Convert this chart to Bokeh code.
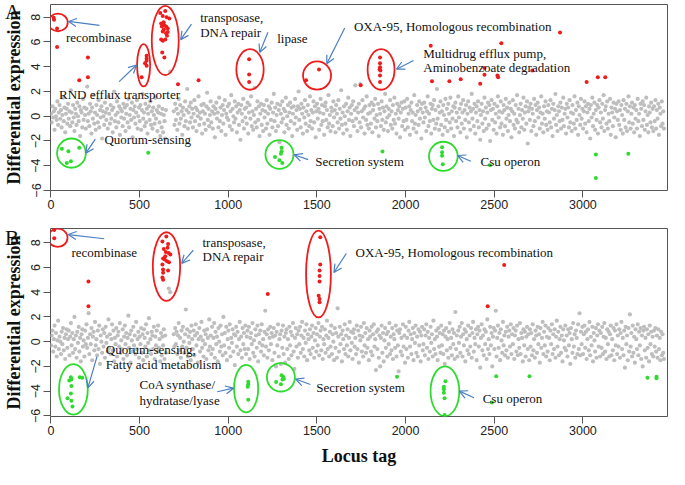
import numpy as np
from bokeh.plotting import figure
from bokeh.layouts import column
from bokeh.models import Arrow, OpenHead, FixedTicker, Range1d, Div
from bokeh.core.properties import value
from bokeh.embed import file_html
from bokeh.resources import INLINE

# ---------------- data ----------------
x_ticks = [0, 500, 1000, 1500, 2000, 2500, 3000]
y_ticks = [-6, -4, -2, 0, 2, 4, 6, 8]
locus_step = 4  # every 4th locus tag is shown in the grey background cloud

gray_a = [
 .2, -.5, .8, -.1, .4, -1.1, .6, .0, -.3, 1.2, -.7, .3, .9, -.2, .5, -.9, .1, 1.5, -.4, .7, -1.3, .2, .6, -.6, 1.0,
 -.2, .4, -.8, 2.1, .3, -.5, .9, -.1, -1.2, .6, .2, -.7, 1.1, .0, -.4, .8, -1.6, .5, .3, -.9, 1.4, -.3, .7, .1, -1.0,
 .6, 2.4, -.4, .2, -.8, 1.0, .4, -1.4, .7, -.2, 1.7, -.6, .3, -1.1, .9, .1, -.5, 1.3, -.9, .5, -.1, .8, -1.8, .4, .0,
 -.7, 1.1, .3, -.3, .6, -1.0, 1.6, .2, -.6, .9, -.2, .5, -1.3, .7, 2.0, -.4, .1, -.9, 1.2, .3, -.5, .8, -1.5, .6, -.1,
 .4, -.8, 1.0, -.2, .7, -1.2, .2, .9, -.5, 1.4, -.9, .1, .6, -.3, 1.1, -1.7, .5, -.1, .8, -.6, .3, 1.3, -1.0, .0, .7,
 -.4, .9, -1.1, .5, 1.8, -.2, .3, -.8, 1.0, -.5, .6, -1.4, .2, .8, -.3, 1.2, -.7, .4, -1.0, .7, .1, -.6, 1.5, -.2, .5,
 -1.2, .3, .8, -.5, -1.6, .2, -.9, .6, -1.3, .1, -.4, -1.8, .5, None, None, None, None, None, 3.6, None, None, None, None, .4, -.7,
 1.0, -.3, .6, -1.1, .2, 1.4, -.6, .9, -.2, .4, -1.5, .7, .1, -.8, 1.2, -.4, .5, 2.2, -1.0, .3, .8, -.5, 1.1, -.1, .6,
 -.9, .2, 1.3, -.4, .7, -1.2, .5, .0, 1.6, -.7, .3, -.2, .9, -1.4, .4, 1.0, -.6, .2, -1.1, .8, 1.9, -.3, .6, -.8, .1,
 1.2, -.5, .4, -1.0, .8, .2, -1.7, .6, 1.1, -.2, .3, -.9, 1.5, -.4, .7, -1.2, .1, .9, -.6, .5, 1.3, -1.5, .2, -.1, .8,
 -.3, 1.0, -.8, .4, 1.7, -1.1, .6, .0, -.5, 1.2, -.2, .8, -1.3, .3, 1.0, -.7, .5, -1.9, .9, .2, -.4, 1.4, -1.0, .6, -.1,
 .7, -.6, 1.1, -1.4, .3, .9, -.2, 1.6, -.8, .4, -1.1, .1, 2.3, -.5, .6, -.9, 1.2, -.3, .8, -1.6, .2, 1.0, -.7, .5, -1.2,
 .9, -.1, .4, -1.0, 1.3, -.6, .2, .8, -1.5, .6, -.3, 1.1, -.9, .3, 1.8, -.4, .7, -1.2, .1, 1.0, -.8, .5, -2.1, .9, .2,
 -.5, 1.2, -.2, .6, -1.3, .4, 1.5, -.7, .0, .9, -1.0, .3, 1.1, -.4, .7, -1.6, .2, .8, -.6, 1.4, -.1, .5, -1.1, .8, 2.0,
 -.3, .6, -.9, 1.0, .2, -1.4, .7, -.1, 1.3, -.6, .4, -1.2, .9, .1, -.8, 1.6, -.4, .5, -1.0, .3, 1.2, -.5, .8, -1.7, .4,
 1.0, -.2, .6, -1.1, .3, 1.4, -.7, .9, -.4, .2, -1.5, .8, 1.1, -.3, .5, -.9, 1.7, -.6, .1, -1.2, .7, .4, -.8, 1.2, -.1,
 .5, -1.3, .9, .2, -.5, 1.3, -1.0, .6, -.2, 2.1, -.7, .3, -1.4, .8, .0, -.6, 1.0, -1.1, .4, 1.5, -.3, .7, -1.6, .2, .9,
 -.4, 1.2, -.8, .5, 2.5, -.2, .7, -1.2, .3, 1.0, -.5, 2.6, -.9, .4, 1.3, -.1, .6, -1.4, .8, -.3, 1.6, -.7, .2, -1.0, .9,
 .3, -.6, 1.1, -1.3, .5, .9, -.2, 1.4, -.9, .1, -.4, 1.0, -1.6, .6, .2, -.8, 1.2, -.3, .7, -1.1, .4, 1.8, -.5, .8, -.1,
 -1.2, .6, .1, 1.3, -.7, .4, -1.0, .9, -.3, 1.5, -.6, .2, -1.4, 1.0, .5, -.2, .8, -1.7, .3, 1.1, -.8, .6, -.4, 1.2, -1.1,
 .7, -.3, 1.4, -.9, .2, .8, -1.5, .5, 1.1, -.4, .3, -1.0, 1.7, -.6, .1, -1.3, .9, .4, -.7, 1.2, -.2, .6, -1.8, 1.0, .3,
 -.5, 1.1, -.1, .7, -1.2, .4, 1.6, -.8, .2, -.4, 1.0, -1.4, .6, .9, -.3, 1.3, -1.0, .5, -.6, 2.2, -.2, .8, -1.1, .3, 1.2,
 -.7, .4, -1.5, .9, .1, -.9, 1.4, -.3, .6, -1.2, 1.0, .2, -.5, 1.5, -1.0, .4, -.2, .8, -1.6, .7, 1.1, -.4, .3, -.9, 1.6,
 -.1, .6, -1.3, 1.0, -.6, .3, 1.3, -1.0, .5, -.3, .9, -1.7, .2, 1.2, -.5, .7, -1.1, .4, 1.8, -.2, .6, -.8, 1.0, -1.4, .3,
 .8, -.4, 1.2, -.9, .5, -1.9, .1, 1.0, -.6, .4, -1.2, 1.5, -.2, .7, -1.0, .3, 1.1, -.7, .9, -2.0, .5, 1.3, -.3, .6, -1.1,
 1.0, -.5, .2, -1.4, .8, 1.6, -.1, .4, -.9, 1.2, -.6, .3, -1.5, .9, .5, -.8, 1.4, -.2, .7, -1.2, .1, 1.1, -.4, .6, -1.7,
 .4, 1.3, -.7, .2, -1.0, .9, -.3, 1.7, -.5, .6, -1.3, .1, 1.0, -.9, .5, -.2, 1.5, -1.1, .3, .8, -.6, 1.2, -2.2, .4, .7,
 -.3, 1.0, -1.2, .6, .2, -.8, 1.4, -.4, .9, -1.5, .5, 1.1, -.1, .7, -1.0, .3, 1.6, -.6, .2, -1.3, .8, -.2, 1.2, -.7, .4,
 -1.1, .9, .3, -.5, 1.3, -.9, .6, -1.6, 1.0, -.2, .5, 1.8, -.7, .1, -1.2, .8, .4, -.4, 1.1, -1.0, .7, -.3, 1.5, -.8, .2,
 .6, -1.4, 1.0, -.1, .7, -.9, 1.3, -.5, .3, -1.2, .9, .2, -.6, 1.6, -1.0, .5, -.3, 1.1, -1.5, .8, .1, -.7, 1.4, -.2, .6,
 -1.0, .4, 1.2, -.6, .8, -1.3, .3, 1.0, -.4, .6, -1.8, .9, -.1, 1.5, -.8, .2, 1.1, -1.1, .5, -.3, .9, -1.4, .7, 1.3, -.5,
 .3, -.9, 1.0, -.2, 1.7, -1.2, .5, .8, -.6, 1.2, -1.0, .2, -.4, 1.4, -1.5, .7, .3, -.8, 1.1, -.1, .6, -1.7, 1.0, .4, -.3,
 1.2, -.7, .5, -1.1, .9, .1, -1.4, 1.3, -.3, .6, -.9, 1.0, -1.2, .4, 1.6, -.5, .8, -1.0, .2, 1.1, -.6, .7, -1.3, .9, -.2,
 .5, -1.0, 1.4, -.4, .2, -1.6, 1.0, .6, -.8, 1.2, -.3, .9, -1.1, .4, 1.5, -.7, .1, -1.3, .8, .3, -.5, 1.1, -.9, .6, -1.2,
 .8, -.4, 1.3, -1.0, .5, -.2, 1.0, -1.5, .7, .2, -.8, 1.2, -.6, .4, -1.0,
]

gray_b = [
 -.3, .5, .9, -.8, .2, 1.3, -.4, .7, -1.2, .1, 1.7, -.6, .4, .0, -1.0, .8, -.2, 1.1, -.7, .3, -1.4, .6, 1.0, -.5, .2,
 .9, -1.1, .4, 1.5, -.3, .7, -.9, .2, 2.0, -.6, .5, -1.3, .8, -.1, 1.2, -.8, .3, -1.6, .6, 1.0, -.4, .1, -1.2, .9, -.2,
 1.4, -.5, .3, 2.3, -1.0, .6, -.2, 1.1, -1.5, .4, .8, -.7, 1.6, -.3, .2, -1.1, .9, -.6, 1.3, -1.8, .5, .0, -.9, 1.0, -.4,
 .7, -1.3, 1.2, -.1, .4, -.8, 1.8, -.5, .6, -1.0, .2, 1.4, -.7, .9, -1.6, .3, -.2, 1.1, -1.2, .5, .8, -.4, 1.5, -.9, .1,
 -.6, 1.0, -1.4, .4, 1.3, -.2, .7, -1.1, .3, 2.1, -.5, .6, -1.7, .9, .1, -.8, 1.2, -.3, .5, -1.0, 1.6, -.6, .2, .8, -1.3,
 .4, -.2, 1.1, -.9, .6, -1.5, 1.0, .3, -.4, 1.4, -1.2, .7, -.1, 1.9, -.7, .2, -1.0, .8, .5, -.6, 1.2, -1.4, .4, -.3, .9,
 -.8, 1.3, -.5, .2, -1.6, .7, -1.1, .4, -.3, 1.0, -1.4, .5, -.9, None, None, None, 4.3, None, 4.0, None, None, None, None, .6, -.4,
 1.1, -.2, .8, -1.0, .5, 1.5, -.7, .3, -1.3, .9, -.4, 1.2, .0, -.9, .6, 2.6, -.5, 1.0, -1.2, .4, -.1, .8, -1.5, 1.3, .2,
 -.6, .9, -1.1, .5, 1.4, -.3, .7, -1.7, .2, 1.1, -.8, .4, 1.6, -.5, .1, -1.2, .9, -.2, .6, -1.4, 1.0, .3, -.7, 1.8, -.4,
 .5, -1.0, 1.2, -.6, .3, 1.5, -1.3, .8, -.2, .4, -1.6, 1.1, .0, -.8, 1.3, -.4, .6, -1.1, 2.0, -.3, .7, -.9, 1.2, -1.5, .2,
 .9, -.5, 1.4, -1.2, .3, -.1, 1.0, -.8, .6, -1.9, .5, 1.2, -.4, .8, -1.0, .2, 1.6, -.7, .4, -1.3, 1.1, -.2, .7, -.6, 1.3,
 -1.0, .4, .9, -.6, 1.2, -1.4, .3, .7, -.2, 1.5, -.9, .1, -1.2, 1.0, .5, -.5, 1.3, -1.6, .6, -.1, .9, -.8, 1.4, -.3, .2,
 -1.1, .8, 2.5, -.4, .6, -1.3, 1.0, -.7, .3, 1.2, -.2, .7, -1.5, .4, 1.1, -.9, .5, -2.0, .8, -.3, 1.4, -1.2, .2, .6, -1.8,
 .9, -.5, 1.3, -1.0, .4, -1.7, .7, 1.0, -.6, .2, -1.4, 1.2, -.3, .8, -1.1, .5, 1.5, -.8, -2.2, .3, 1.1, -.4, .6, -1.3, .9,
 -.2, 1.2, -.9, .5, 1.6, -.6, .3, -1.2, .9, -.1, 1.4, -1.5, .6, .2, -.7, 1.0, -1.0, .4, 1.3, -.5, .7, -1.3, .1, 1.1, -.8,
 .6, -.3, 1.5, -1.1, .4, .9, -.7, 1.2, -1.4, .2, -.2, 1.0, -.9, .5, 1.7, -.6, .3, -1.2, .8, -.4, 1.3, -1.0, .6, .0, -1.5,
 1.1, -.5, .7, -1.3, 2.7, .4, -.8, 1.2, -.2, .6, -1.6, .9, .2, -.6, 1.4, -1.0, .5, -.3, 1.0, -1.2, .3, 1.6, -.7, .8, -.1,
 -1.4, .7, 1.0, -.4, .3, -1.0, 1.3, -.6, .9, -1.7, .5, .1, 1.2, -.8, .4, -1.2, 1.5, -.3, .7, -.9, 1.1, -.5, .2, -1.5, .9,
 .4, -.8, 1.2, -1.1, .6, 1.4, -.4, .2, -2.3, .8, -.6, 1.0, -1.3, .5, -2.0, .3, 1.3, -.9, .7, -1.6, .1, 1.1, -.5, .6, -1.2,
 .8, -.2, 1.5, -1.0, .4, -.7, 1.1, -1.4, .6, .2, -.5, 1.3, -1.2, .9, -.3, -2.4, .7, 1.0, -.8, .3, -1.1, 1.4, -.4, .5, -1.7,
 1.2, -.6, .3, -1.3, .9, 1.6, -.4, .6, -1.0, .2, 1.1, -1.5, .7, -.1, 1.3, -.9, .4, -1.2, 1.0, -.3, .8, -1.6, .5, 1.2, -.7,
 -.2, 1.0, -1.1, .5, 1.4, -.5, .8, -1.4, .3, -.8, 1.2, -.1, .6, -1.2, 1.7, -.6, .2, -1.0, .9, .4, -1.5, 1.1, -.4, .7, -.9,
 1.3, -.3, .6, -1.0, .9, -1.8, .4, 1.1, -.7, .2, -1.3, .8, 1.5, -.5, .3, -1.1, 1.0, -.2, .7, -1.4, 2.4, -.6, .5, -1.2, .9,
 -.1, 1.2, -.9, .4, 1.5, -1.2, .6, -.3, 1.0, -1.6, .8, .2, -.7, 1.3, -1.0, .5, -.4, 1.1, -1.3, .7, 1.6, -.8, .3, -.2, 1.0,
 -1.5, .6, 1.2, -.4, .9, -2.1, .3, 1.4, -.7, .5, -1.1, 1.0, -.2, .8, -1.4, 1.8, -.6, .2, -1.0, 1.2, -.3, .7, -2.0, .4, 1.1,
 -.6, .9, 2.5, -1.2, .3, 1.3, -.5, .7, -1.5, 1.0, .1, -.9, 1.6, -.3, .5, -1.1, .8, -.7, 1.2, -1.3, .4, .9, -.4, 1.4, -1.0,
 .6, -.2, 1.1, -1.4, .5, .9, -.8, 1.3, -1.1, .2, -.5, 1.5, -1.0, .7, .3, -1.6, 1.0, -.3, .8, -1.2, .4, 1.2, -.6, .6, -1.5,
 1.0, -.4, .7, -1.1, 1.4, -.7, .2, -1.3, .9, .5, -.9, 1.2, -.2, .6, -1.7, 1.1, -.5, .3, 1.6, -1.0, .8, -.3, 1.3, -1.2, .4,
 -.8, 1.1, .3, -1.5, .9, -.2, 1.4, -1.0, .6, -.6, 1.0, -1.3, .4, 1.7, -.4, .8, -1.1, .2, 1.2, -.9, .5, -1.6, 1.0, .1, -.5,
 1.3, -.7, .5, -1.2, 1.0, -.3, .7, -1.8, 1.1, .2, -.9, 1.5, -.4, .6, -1.3, .9, .3, -1.0, 1.4, -.6, 2.3, -1.1, .8, -.2, 1.2,
 -1.0, .6, 1.3, -.5, .8, -1.4, .2, 1.0, -.7, 1.6, -1.1, .4, -.3, 1.2, -1.6, .7, .1, -.8, 1.1, -1.3, .5, 1.4, -.4, .9, -1.2,
 .7, -.5, 1.2, -1.0, .4, 1.5, -.8, .3, -1.4, 1.0, -.2, .8, -1.2, .6, 1.3, -1.1, .2, -.7, 1.1, -1.5, .9, -.3, 1.4, -1.0, .5,
 -.4, 1.0, -1.3, .7, 1.6, -.6, .3, -1.1, .9, -2.1, 1.2, -.2, .5, -1.5, 1.1, -.8, 2.2, -.4, .7, -1.2, 1.3, -.9, .4, -1.7, 1.0,
 .2, -.6, 1.4, -1.1, .8, -.3, 1.1, -1.4, .5, -2.0, .9, 1.2, -.7, .3, -1.3, 1.0, -.5, .6, -1.6, 1.3, -.2, .8, -1.0, .4, -1.2,
 .9, -.4, 1.1, -.8, .5, -1.3, 1.0, -.6, .3, -1.5, .8, -1.1, .6, -.9, -1.4,
]

red_a_locus = [16, 18, 35, 35, 160, 209, 209, 512, 540, 540, 540, 531, 540,
               617, 645, 631, 653, 668, 622, 640, 626, 650, 659, 637, 631, 659, 650, 622, 631, 645, 628, 640, 636, 655,
               717, 833, 1118, 1118, 1118, 1512, 1439, 1747, 1856, 1856, 1856, 1854, 1858, 1856, 1856,
               2142, 2149, 2247, 2311, 2421, 2445, 2445, 2518, 2522, 2540, 2715, 2871, 3021, 3084, 3126]
red_a_value = [7.96, 7.8, 7.1, 5.6, 2.9, 4.74, 3.16, 3.16, 4.88, 4.66, 4.48, 4.29, 4.09,
               8.35, 8.5, 8.1, 8.0, 7.9, 7.5, 7.35, 7.25, 7.25, 7.1, 7.0, 6.85, 6.8, 6.7, 6.2, 6.1, 6.2, 5.15, 4.75, 7.6, 6.5,
               2.58, 2.9, 4.61, 3.37, 2.77, 3.77, 2.9, 2.5, 4.74, 4.29, 3.95, 3.77, 3.69, 3.3, 2.77,
               5.7, 2.82, 2.82, 2.98, 2.63, 3.35, 3.9, 3.3, 3.16, 5.9, 3.69, 6.77, 2.77, 3.16, 3.16]
green_a_locus = [62, 99, 160, 90, 113, 549, 1301, 1301, 1297, 1264, 1289, 1305, 1870,
                 2206, 2206, 2206, 2210, 2476, 3073, 3073, 3256]
green_a_value = [-2.63, -2.82, -2.55, -3.77, -3.64, -2.95, -2.55, -2.82, -3.03, -3.3, -3.56, -3.77, -2.85,
                 -2.5, -2.9, -3.2, -3.87, -3.95, -3.1, -5.0, -3.03]

red_b_locus = [19, 19, 212, 212,
               651, 629, 661, 637, 648, 664, 674, 633, 642, 655, 666, 629, 633, 661, 633, 629, 633, 645, 658,
               1223, 1519, 1519, 1515, 1515, 1515, 1510, 1515, 1515, 2556, 2463]
red_b_value = [9.03, 8.37, 4.86, 2.87,
               8.5, 8.1, 7.89, 7.5, 7.25, 7.17, 7.04, 6.72, 6.64, 6.51, 6.43, 6.24, 5.84, 5.76, 5.58, 5.18, 5.0, 6.9, 7.6,
               3.85, 8.45, 6.24, 5.76, 5.31, 4.86, 3.72, 3.45, 3.19, 6.19, 2.87]
green_b_locus = [113, 116, 104, 163, 177, 116, 113, 94, 116, 122,
                 1113, 1113, 1110, 1113, 1301, 1310, 1306, 1270, 1297, 1314, 1952,
                 2225, 2216, 2216, 2216, 2220, 2220, 2511, 2699, 2487, 3364, 3415, 3415]
green_b_value = [-2.87, -3.05, -3.13, -2.87, -2.92, -3.59, -4.2, -4.57, -4.78, -5.24,
                 -3.24, -3.45, -3.64, -4.7, -2.71, -2.84, -3.05, -3.27, -3.45, -3.0, -2.84,
                 -3.19, -3.64, -3.85, -4.12, -4.57, -5.92, -2.79, -2.79, -4.91, -2.92, -2.84, -2.95]

# annotation circles (centre locus, centre value, width in loci, height in value units)
ring_red_a = dict(x=[40, 523, 645, 1123, 1501, 1862], y=[7.58, 4.12, 6.12, 3.78, 3.29, 3.78],
                  w=[110, 74, 152, 154, 158, 152], h=[1.42, 3.42, 5.6, 3.28, 2.28, 3.28])
ring_green_a = dict(x=[116, 1289, 2213], y=[-2.98, -3.09, -3.24], w=[162, 158, 162], h=[2.36, 2.32, 2.36])
ring_red_b = dict(x=[39, 652, 1509], y=[8.4, 6.07, 5.47], w=[110, 154, 140], h=[1.48, 5.56, 7.02])
ring_green_b = dict(x=[127, 1101, 1297, 2222], y=[-3.86, -3.79, -2.88, -4.01], w=[162, 136, 158, 162],
                    h=[4.08, 3.84, 2.3, 4.02])

notes_a = [("recombinase", 85, 6.35), ("RND efflux transporter", 46, 1.75),
           ("transposase,", 842, 8.0), ("DNA repair", 842, 6.77), ("lipase", 1276, 6.29),
           ("OXA-95, Homologous recombination", 1709, 7.27),
           ("Multidrug efflux pump,", 2100, 5.05), ("Aminobenzoate degradation", 2100, 3.9),
           ("Quorum-sensing", 302, -1.85), ("Secretion system", 1491, -3.69), ("Csu operon", 2423, -3.64)]
notes_b = [("recombinase", 116, 7.21), ("transposase,", 855, 8.0), ("DNA repair", 855, 6.86),
           ("OXA-95, Homologous recombination", 1718, 7.21),
           ("Quorum-sensing,", 310, -0.6), ("Fatty acid metabolism", 310, -1.82),
           ("CoA synthase/", 500, -3.46), ("hydratase/lyase", 500, -4.79),
           ("Secretion system", 1497, -3.73), ("Csu operon", 2435, -4.61)]

arrows_a = [(274, 7.35, 100, 7.66), (385, 2.8, 483, 4.14), (793, 7.45, 732, 6.19), (1224, 6.79, 1178, 5.16),
            (1657, 7.13, 1556, 4.24), (2045, 4.51, 1949, 3.8), (251, -1.85, 197, -2.98),
            (1451, -3.5, 1372, -3.11), (2368, -3.64, 2293, -3.17)]
arrows_b = [(301, 8.32, 98, 8.66), (803, 7.39, 738, 6.33), (1666, 7.13, 1596, 5.59), (260, -1.21, 209, -3.73),
            (938, -4.05, 1030, -3.76), (1463, -3.46, 1380, -3.02), (2386, -4.53, 2303, -4.0)]

panel_letters = ["A", "B"]

# ---------------- style ----------------
GREY = "#BEBEBE"
RED = "#EE1C1C"
GREEN = "#2EDB2E"
BLUE = "#4A7FC1"
SERIF = "Liberation Serif"
SANS = "Liberation Sans"


def panel(gray_vals, rx, ry, gx, gy, rings_r, rings_g, notes, arrows, yr, height, top, bottom, xlabel):
    p = figure(width=669, height=height, x_range=Range1d(-2, 3477), y_range=Range1d(*yr),
               output_backend="svg", toolbar_location=None,
               min_border_left=45, min_border_right=2, min_border_top=top, min_border_bottom=bottom)
    p.grid.visible = False
    p.outline_line_color = "#555555"
    p.outline_line_width = 1
    p.background_fill_color = "white"
    p.border_fill_color = "white"

    for ax in (p.xaxis[0], p.yaxis[0]):
        ax.axis_line_color = None
        ax.major_tick_in = 0
        ax.major_tick_out = 7
        ax.major_tick_line_color = "#555555"
        ax.minor_tick_line_color = None
        ax.major_label_text_font = SANS
        ax.major_label_text_font_size = "12.5px"
        ax.major_label_text_color = "#222222"
        ax.axis_label_text_font = SERIF
        ax.axis_label_text_font_style = "bold"
        ax.axis_label_text_font_size = "18px"
        ax.axis_label_text_color = "#111111"
    p.xaxis.ticker = FixedTicker(ticks=x_ticks)
    p.yaxis.ticker = FixedTicker(ticks=y_ticks)
    p.xaxis.major_label_standoff = 2
    p.yaxis.major_label_standoff = 3
    p.yaxis.major_label_orientation = "vertical"
    p.yaxis.axis_label = "Differential expression"
    p.yaxis.axis_label_standoff = 5
    if xlabel:
        p.xaxis.axis_label = xlabel
        p.xaxis.axis_label_standoff = 8

    gy_arr = np.array(gray_vals, dtype=float)
    gx_arr = np.arange(len(gy_arr)) * locus_step + 1
    p.scatter(gx_arr, gy_arr, size=4.2, fill_color=GREY, line_color=None)
    p.scatter(rx, ry, size=4, fill_color=RED, line_color=None)
    p.scatter(gx, gy, size=4, fill_color=GREEN, line_color=None)

    p.ellipse(x=rings_r["x"], y=rings_r["y"], width=rings_r["w"], height=rings_r["h"],
              fill_color=None, line_color=RED, line_width=1.8)
    p.ellipse(x=rings_g["x"], y=rings_g["y"], width=rings_g["w"], height=rings_g["h"],
              fill_color=None, line_color=GREEN, line_width=1.8)

    p.text(x=[n[1] for n in notes], y=[n[2] for n in notes], text=[n[0] for n in notes],
           text_font=value(SERIF), text_font_size="13px", text_color="#111111",
           text_align="left", text_baseline="middle")

    for (x0, y0, x1, y1) in arrows:
        p.add_layout(Arrow(end=OpenHead(size=8, line_color=BLUE, line_width=1.2),
                           x_start=x0, y_start=y0, x_end=x1, y_end=y1,
                           line_color=BLUE, line_width=1.2))
    return p


pa = panel(gray_a, red_a_locus, red_a_value, green_a_locus, green_a_value, ring_red_a, ring_green_a,
           notes_a, arrows_a, (-6.0, 9.03), 220, 4, 30, None)
pb = panel(gray_b, red_b_locus, red_b_value, green_b_locus, green_b_value, ring_red_b, ring_green_b,
           notes_b, arrows_b, (-6.05, 9.15), 249, 8, 53, "Locus tag")


def letter_div(txt, top):
    return Div(text=txt, width=20, height=24,
               styles={"position": "absolute", "left": "0px", "top": f"{top}px",
                       "font-family": SERIF, "font-size": "21px", "line-height": "24px",
                       "color": "#111111", "z-index": "10"})


layout = column(pa, pb, letter_div(panel_letters[0], -5), letter_div(panel_letters[1], 221), spacing=0)
open("out.html", "w").write(file_html(layout, INLINE))
